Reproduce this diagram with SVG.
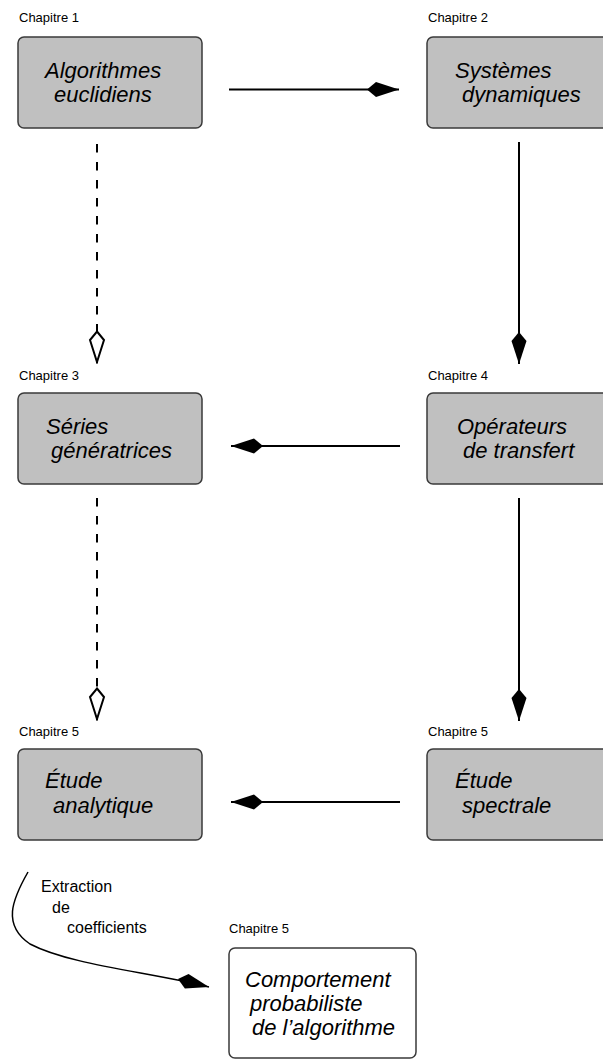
<svg xmlns="http://www.w3.org/2000/svg" width="603" height="1064" viewBox="0 0 603 1064">
<style>
.box{fill:#c0c0c0;stroke:#3a3a3a;stroke-width:1.5}
.wbox{fill:#ffffff;stroke:#3a3a3a;stroke-width:1.5}
.lbl{font-family:"Liberation Sans",Arial,sans-serif;font-size:13px;fill:#000}
.nt{font-family:"Liberation Sans",Arial,sans-serif;font-size:22px;font-style:italic;fill:#000}
.ct{font-family:"Liberation Sans",Arial,sans-serif;font-size:16px;fill:#000}
.ln{fill:none;stroke:#000;stroke-width:2}
.dash{stroke-dasharray:8.5 9.5}
</style>
<defs>
<marker id="kf" viewBox="0 0 34 18" refX="33" refY="9" markerWidth="34" markerHeight="18" markerUnits="userSpaceOnUse" orient="auto">
<path d="M1,9 L10,1.5 L33,9 L10,16.5 Z" fill="#000"/>
</marker>
<marker id="ko" viewBox="0 0 34 18" refX="33" refY="9" markerWidth="34" markerHeight="18" markerUnits="userSpaceOnUse" orient="auto">
<path d="M1.5,9 L10,2 L32,9 L10,16 Z" fill="#fff" stroke="#000" stroke-width="2"/>
</marker>
</defs>

<g id="connectors">
<path class="ln" d="M229,89.5 L399,89.5" marker-end="url(#kf)"/>
<path class="ln" d="M519,142 L519,364" marker-end="url(#kf)"/>
<path class="ln dash" d="M97,144 L97,363" marker-end="url(#ko)"/>
<path class="ln" d="M400,446 L231,446" marker-end="url(#kf)"/>
<path class="ln" d="M519,498 L519,721" marker-end="url(#kf)"/>
<path class="ln dash" d="M97,498 L97,720" marker-end="url(#ko)"/>
<path class="ln" d="M400,802 L231,802" marker-end="url(#kf)"/>
<path class="ln" style="stroke-width:1.5" d="M28,872 C12,900 2,925 30,944 C70,965 150,972 209,987" marker-end="url(#kf)"/>
<text class="ct" x="41" y="892">Extraction</text>
<text class="ct" x="52" y="913">de</text>
<text class="ct" x="67" y="933">coefficients</text>
</g>

<g id="n1">
<text class="lbl" x="19" y="22">Chapitre 1</text>
<rect class="box" x="18" y="37" width="184" height="91" rx="6"/>
<text class="nt" x="45" y="78">Algorithmes</text>
<text class="nt" x="54" y="102">euclidiens</text>
</g>
<g id="n2">
<text class="lbl" x="428" y="22">Chapitre 2</text>
<rect class="box" x="427" y="37" width="184" height="91" rx="6"/>
<text class="nt" x="455" y="78">Systèmes</text>
<text class="nt" x="462" y="102">dynamiques</text>
</g>
<g id="n3">
<text class="lbl" x="19" y="380">Chapitre 3</text>
<rect class="box" x="18" y="393" width="184" height="91" rx="6"/>
<text class="nt" x="46" y="434">Séries</text>
<text class="nt" x="51" y="458">génératrices</text>
</g>
<g id="n4">
<text class="lbl" x="428" y="380">Chapitre 4</text>
<rect class="box" x="427" y="393" width="184" height="91" rx="6"/>
<text class="nt" x="457" y="434">Opérateurs</text>
<text class="nt" x="463" y="458">de transfert</text>
</g>
<g id="n5">
<text class="lbl" x="19" y="736">Chapitre 5</text>
<rect class="box" x="18" y="749" width="184" height="91" rx="6"/>
<text class="nt" x="45" y="788">Étude</text>
<text class="nt" x="53" y="813">analytique</text>
</g>
<g id="n6">
<text class="lbl" x="428" y="736">Chapitre 5</text>
<rect class="box" x="427" y="749" width="184" height="91" rx="6"/>
<text class="nt" x="455" y="788">Étude</text>
<text class="nt" x="462" y="813">spectrale</text>
</g>
<g id="n7">
<text class="lbl" x="229" y="933">Chapitre 5</text>
<rect class="wbox" x="229" y="948" width="187" height="110" rx="6"/>
<text class="nt" x="245" y="987">Comportement</text>
<text class="nt" x="250" y="1011">probabiliste</text>
<text class="nt" x="252" y="1035">de l’algorithme</text>
</g>
</svg>
